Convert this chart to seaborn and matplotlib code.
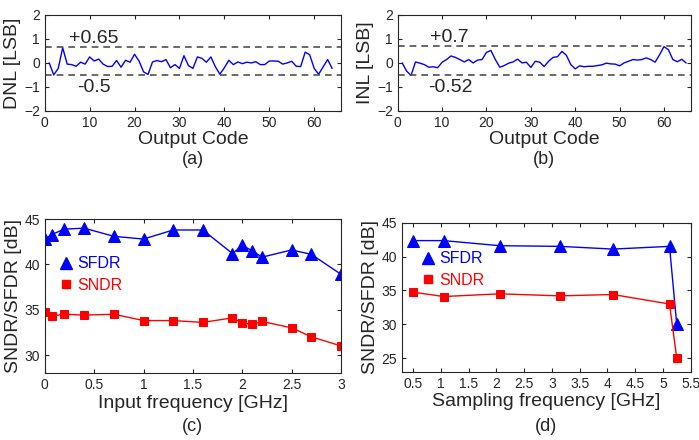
import numpy as np
import pandas as pd
import seaborn as sns
import matplotlib.pyplot as plt
from matplotlib.lines import Line2D

# ---- data ----
dnl_codes = list(range(1, 65))
dnl = [0, -0.5, -0.23, 0.63, -0.05, -0.07, -0.14, 0.03, -0.05, 0.25,
       0.08, 0.16, -0.05, -0.15, -0.14, 0.1, -0.18, 0.11, 0.03, 0.36,
       0.08, -0.37, -0.48, 0.04, 0.1, 0.05, 0.14, -0.2, -0.07, -0.23,
       0.3, -0.11, -0.23, 0.25, 0.19, 0.03, 0.25, -0.16, -0.47, -0.2,
       0.11, -0.07, 0.04, -0.03, 0.03, 0, 0.05, -0.07, -0.07, 0.08,
       0.08, 0.07, -0.05, 0, 0.07, -0.14, -0.15, 0.45, 0.34, -0.23,
       -0.47, -0.16, 0.14, -0.23]

inl_codes = list(range(1, 66))
inl = [0, -0.34, -0.52, 0.04, -0.01, -0.07, -0.18, -0.16, -0.2, 0.03,
       0.14, 0.29, 0.23, 0.14, 0.04, 0.14, 0, 0.12, 0.14, 0.44,
       0.52, 0.14, -0.18, -0.11, -0.01, 0.04, 0.16, 0, 0.03, -0.19,
       0.07, 0.03, -0.15, 0.07, 0.23, 0.26, 0.48, 0.32, -0.07, -0.25,
       -0.12, -0.16, -0.14, -0.14, -0.11, -0.08, -0.01, -0.04, -0.05, -0.12,
       0, 0.07, 0.14, 0.12, 0.14, 0.21, 0.14, 0.03, 0.34, 0.68,
       0.55, 0.14, 0.05, 0.15, 0]

dnl_lims = [0.65, -0.5]
inl_lims = [0.7, -0.52]

fin = [0, 0.07, 0.2, 0.4, 0.7, 1.0, 1.3, 1.6, 1.9, 2.0, 2.1, 2.2, 2.5, 2.7, 3.0]
sfdr_fin = [42.8, 43.3, 43.9, 44.0, 43.1, 42.8, 43.8, 43.8, 41.2, 42.1, 41.5, 40.8, 41.6, 41.1, 38.9]
sndr_fin = [34.8, 34.3, 34.5, 34.4, 34.5, 33.8, 33.8, 33.6, 34.1, 33.5, 33.4, 33.7, 33.0, 32.0, 31.0]

fs = [0.5, 1.05, 2.06, 3.15, 4.1, 5.12, 5.25]
sfdr_fs = [42.35, 42.35, 41.6, 41.5, 41.1, 41.5, 30.0]
sndr_fs = [34.75, 34.1, 34.5, 34.2, 34.4, 33.0, 25.0]

sns.set_style("ticks")
plt.rcParams['font.family'] = ['Liberation Sans', 'DejaVu Sans']
plt.rcParams['xtick.direction'] = 'in'
plt.rcParams['ytick.direction'] = 'in'
plt.rcParams['xtick.top'] = True
plt.rcParams['ytick.right'] = True

gray = '#262626'
fig = plt.figure(figsize=(6.99, 4.40), dpi=100)
ax_a = fig.add_axes([0.064, 0.748, 0.424, 0.218])
ax_b = fig.add_axes([0.569, 0.748, 0.419, 0.218])
ax_c = fig.add_axes([0.064, 0.152, 0.424, 0.350])
ax_d = fig.add_axes([0.575, 0.155, 0.413, 0.339])


def style(ax):
    for s in ax.spines.values():
        s.set_color(gray)
        s.set_linewidth(0.8)
    ax.tick_params(colors=gray, labelsize=10, length=3, width=0.8,
                   labelcolor=gray)


# (a) DNL
sns.lineplot(x=dnl_codes, y=dnl, ax=ax_a, color='blue', lw=1)
for v in dnl_lims:
    ax_a.axhline(v, color='#505050', ls='--', lw=1.2, dashes=(4, 3))
ax_a.text(5.3, 1.0, '+0.65', fontsize=14, va='center')
ax_a.text(7.3, -1.03, '-0.5', fontsize=14, va='center')
ax_a.set_xlim(0, 66)
ax_a.set_ylim(-2, 2)
ax_a.set_xticks(range(0, 61, 10))
ax_a.set_yticks([-2, -1, 0, 1, 2])
ax_a.set_xlabel('Output Code', fontsize=14, labelpad=1)
ax_a.set_ylabel('DNL [LSB]', fontsize=14, labelpad=2)
style(ax_a)

# (b) INL
sns.lineplot(x=inl_codes, y=inl, ax=ax_b, color='blue', lw=1)
for v in inl_lims:
    ax_b.axhline(v, color='#505050', ls='--', lw=1.2, dashes=(4, 3))
ax_b.text(7.3, 1.05, '+0.7', fontsize=14, va='center')
ax_b.text(6.8, -1.03, '-0.52', fontsize=14, va='center')
ax_b.set_xlim(0, 66)
ax_b.set_ylim(-2, 2)
ax_b.set_xticks(range(0, 61, 10))
ax_b.set_yticks([-2, -1, 0, 1, 2])
ax_b.set_xlabel('Output Code', fontsize=14, labelpad=1)
ax_b.set_ylabel('INL [LSB]', fontsize=14, labelpad=2)
style(ax_b)


def legend(ax, anchor):
    handles = [Line2D([], [], ls='none', marker='^', color='blue', ms=8, label='SFDR'),
               Line2D([], [], ls='none', marker='s', color='red', ms=6, label='SNDR')]
    ax.legend(handles=handles, loc='upper left', bbox_to_anchor=anchor,
              frameon=False, fontsize=11.5, labelcolor='linecolor',
              handlelength=0.8, handletextpad=0.3, labelspacing=0.4,
              borderaxespad=0)


# (c) vs input frequency
sns.lineplot(x=fin, y=sfdr_fin, ax=ax_c, color='blue', marker='^', ms=8,
             mec='blue', lw=1)
sns.lineplot(x=fin, y=sndr_fin, ax=ax_c, color='red', marker='s', ms=6,
             mec='red', lw=1)
ax_c.set_xlim(0, 3)
ax_c.set_ylim(28, 45)
ax_c.set_xticks([0, 0.5, 1, 1.5, 2, 2.5, 3])
ax_c.set_xticklabels(['0', '0.5', '1', '1.5', '2', '2.5', '3'])
ax_c.set_yticks([30, 35, 40, 45])
ax_c.set_xlabel('Input frequency [GHz]', fontsize=14, labelpad=2)
ax_c.set_ylabel('SNDR/SFDR [dB]', fontsize=14, labelpad=2)
legend(ax_c, (0.03, 0.8))
style(ax_c)

# (d) vs sampling frequency
sns.lineplot(x=fs, y=sfdr_fs, ax=ax_d, color='blue', marker='^', ms=8,
             mec='blue', lw=1)
sns.lineplot(x=fs, y=sndr_fs, ax=ax_d, color='red', marker='s', ms=6,
             mec='red', lw=1)
ax_d.set_xlim(0.3, 5.5)
ax_d.set_ylim(23, 45)
ax_d.set_xticks([0.5, 1, 1.5, 2, 2.5, 3, 3.5, 4, 4.5, 5, 5.5])
ax_d.set_xticklabels(['0.5', '1', '1.5', '2', '2.5', '3', '3.5', '4', '4.5', '5', '5.5'])
ax_d.set_yticks([25, 30, 35, 40, 45])
ax_d.set_xlabel('Sampling frequency [GHz]', fontsize=14, labelpad=2)
ax_d.set_ylabel('SNDR/SFDR [dB]', fontsize=14, labelpad=2)
legend(ax_d, (0.045, 0.85))
style(ax_d)

fig.text(0.276, 0.638, '(a)', fontsize=13, ha='center', va='center')
fig.text(0.778, 0.638, '(b)', fontsize=13, ha='center', va='center')
fig.text(0.276, 0.03, '(c)', fontsize=13, ha='center', va='center')
fig.text(0.781, 0.03, '(d)', fontsize=13, ha='center', va='center')

fig.savefig('out.png', dpi=100)
